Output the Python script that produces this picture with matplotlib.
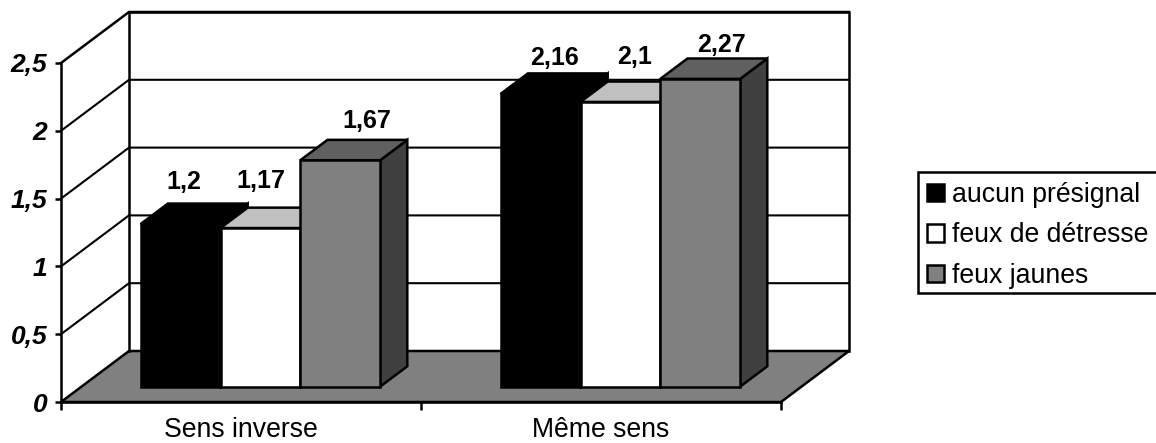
import matplotlib
matplotlib.use("Agg")
import matplotlib.pyplot as plt
from matplotlib.patches import Patch, Polygon, Rectangle

plt.rcParams['font.family'] = ['Liberation Sans', 'DejaVu Sans']

categories = ['Sens inverse', 'Même sens']
series_names = ['aucun présignal', 'feux de détresse', 'feux jaunes']
aucun_presignal = [1.2, 2.16]
feux_detresse = [1.17, 2.1]
feux_jaunes = [1.67, 2.27]
value_labels = [['1,2', '2,16'], ['1,17', '2,1'], ['1,67', '2,27']]
y_ticks = [0, 0.5, 1, 1.5, 2, 2.5]
y_tick_labels = ['0', '0,5', '1', '1,5', '2', '2,5']

# colours per series: front, top, side
front_colors = ['#000000', '#ffffff', '#808080']
top_colors = ['#000000', '#c0c0c0', '#606060']
side_colors = ['#000000', '#a0a0a0', '#404040']
# label shift from the centre of each bar's top edge, in points
label_shift = [[(2, 30), (10, 26)], [(0, 34), (10, 32)], [(19, 28), (15, 24.5)]]

W, H = 1156, 443
fig = plt.figure(figsize=(W / 100, H / 100), dpi=100)
ax = fig.add_axes([61 / W, 1 - 402 / H, 720 / W, 339 / H])
ax.set_xlim(0, 2)
ax.set_ylim(0, 2.5)

# one unit of depth in data coordinates
DX = 68 / 360
DY = 51 / 135.6
BAR_W = 79.8 / 360
LW = 1.8


def pt(x, y, d):
    return (x + d * DX, y + d * DY)


def face(points, color, z, lw=LW):
    ax.add_patch(Polygon(points, closed=True, facecolor=color, edgecolor='black',
                         linewidth=lw, joinstyle='miter', clip_on=False, zorder=z))


# floor and back wall
face([pt(0, 0, 0), pt(0, 0, 1), pt(2, 0, 1), pt(2, 0, 0)], '#808080', 1)
ax.plot([pt(0, 0, 1)[0], pt(0, 2.5, 1)[0], pt(2, 2.5, 1)[0], pt(2, 0, 1)[0]],
        [pt(0, 0, 1)[1], pt(0, 2.5, 1)[1], pt(2, 2.5, 1)[1], pt(2, 0, 1)[1]],
        color='black', lw=LW, clip_on=False, zorder=2)
for t in y_ticks[1:]:
    lw = LW if t == 2.5 else 1.5
    ax.plot([pt(0, t, 0)[0], pt(0, t, 1)[0], pt(2, t, 1)[0]],
            [pt(0, t, 0)[1], pt(0, t, 1)[1], pt(2, t, 1)[1]],
            color='black', lw=lw, clip_on=False, zorder=2)

# bars, left to right so each one covers the side of the previous one
values = [aucun_presignal, feux_detresse, feux_jaunes]
D0, D1 = 0.3, 0.7
z = 3
for g in range(len(categories)):
    for s in range(len(series_names)):
        v = values[s][g]
        cx = g + 0.5 - 1 / 360 + (s - 1) * BAR_W
        x0, x1 = cx - BAR_W / 2, cx + BAR_W / 2
        face([pt(x1, 0, D0), pt(x1, 0, D1), pt(x1, v, D1), pt(x1, v, D0)], side_colors[s], z)
        face([pt(x0, v, D0), pt(x0, v, D1), pt(x1, v, D1), pt(x1, v, D0)], top_colors[s], z)
        base = pt(cx, 0, D0)
        ax.bar(base[0], v, BAR_W, bottom=base[1], color=front_colors[s], edgecolor='black',
               linewidth=LW, clip_on=False, zorder=z + 0.5)
        ax.annotate(value_labels[s][g], xy=(base[0], base[1] + v), xytext=label_shift[s][g],
                    textcoords='offset points', ha='center', va='center', fontsize=18,
                    fontweight='bold', zorder=20, annotation_clip=False)
        z += 1

# axes
for side in ['top', 'right']:
    ax.spines[side].set_visible(False)
for side in ['left', 'bottom']:
    ax.spines[side].set_linewidth(LW)
    ax.spines[side].set_zorder(15)
ax.set_yticks(y_ticks)
ax.set_yticklabels(y_tick_labels, fontsize=19, fontweight='bold', fontstyle='italic')
ax.tick_params(axis='y', length=4, width=LW, pad=6)
ax.set_xticks([0, 1, 2])
ax.set_xticklabels([])
ax.tick_params(axis='x', which='major', length=6, width=LW)
ax.set_xticks([0.5, 1.5], minor=True)
ax.set_xticklabels(categories, minor=True, fontsize=19.2)
ax.tick_params(axis='x', which='minor', length=0, pad=11)

# legend box runs off the right edge of the figure, so the frame is drawn by hand
fig.add_artist(Rectangle((918 / W, 1 - 293 / H), 260 / W, 121 / H, transform=fig.transFigure,
                         facecolor='white', edgecolor='black', linewidth=LW))
handles = [Patch(facecolor=c, edgecolor='black', linewidth=LW) for c in front_colors]
leg = fig.legend(handles, series_names, loc='upper left', bbox_to_anchor=(916.5 / W, 1 - 171 / H),
                 borderaxespad=0, fontsize=19.2, handlelength=0.62, handleheight=0.62,
                 handletextpad=0.3, labelspacing=0.55, borderpad=0.4, frameon=False)

fig.savefig('out.png', dpi=100)
